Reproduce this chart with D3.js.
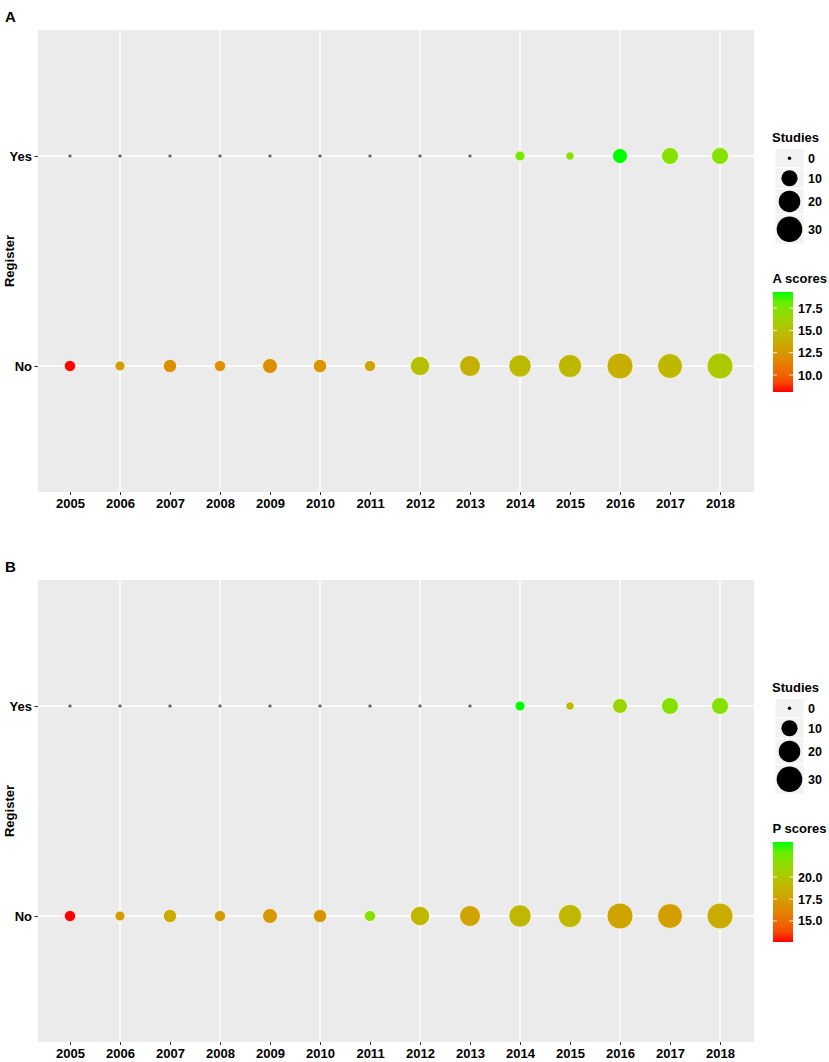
<!DOCTYPE html>
<html>
<head>
<meta charset="utf-8">
<script src="https://cdn.jsdelivr.net/npm/d3@7"></script>
<style>
body { margin: 0; background: #fff; }
text { font-family: "Liberation Sans", Arial, sans-serif; font-weight: bold; fill: #000; }
</style>
</head>
<body>
<svg id="chart" width="829" height="1062"></svg>
<script>
'use strict';
var years = [2005, 2006, 2007, 2008, 2009, 2010, 2011, 2012, 2013, 2014, 2015, 2016, 2017, 2018];
var registerLevels = ['Yes', 'No'];
var gridYears = [2006, 2008, 2010, 2012, 2014, 2016, 2018];

// number of studies per year (same in both panels)
var studiesNo  = [3, 2, 5, 3, 7, 5, 3, 14, 17, 20, 22, 29, 26, 29];
var studiesYes = [0, 0, 0, 0, 0, 0, 0, 0, 0, 2, 1, 7, 10, 10];

// mean scores (null where there are no studies)
var aScoresNo  = [8.1, 12.9, 12.1, 12.1, 12.1, 12.4, 13.2, 15.0, 14.0, 14.6, 14.4, 13.9, 14.4, 15.5];
var aScoresYes = [null, null, null, null, null, null, null, null, null, 17.6, 17.1, 19.3, 17.2, 17.2];
var pScoresNo  = [12.6, 17.3, 18.3, 17.4, 17.2, 17.0, 21.9, 19.0, 17.8, 19.0, 19.0, 17.8, 17.5, 18.3];
var pScoresYes = [null, null, null, null, null, null, null, null, null, 24.0, 19.0, 21.0, 21.9, 21.9];

var aTicks = [10, 12.5, 15, 17.5];
var pTicks = [15, 17.5, 20];
var sizeBreaks = [0, 10, 20, 30];

var svg = d3.select('#chart');
var panelLeft = 38, panelRight = 754, panelHeight = 462;

var maxStudies = d3.max(studiesNo.concat(studiesYes));
var diam = d3.scaleSqrt().domain([0, maxStudies]).range([4.2, 26]);

function rows(noScores, yesScores){
    var out = [];
    years.forEach(function(y, i){
        out.push({year: y, reg: 'No', n: studiesNo[i], score: noScores[i]});
        out.push({year: y, reg: 'Yes', n: studiesYes[i], score: yesScores[i]});
    });
    return out;
}

function drawPanel(top, tag, data, scoreTitle, ticks){
    var g = svg.append('g');
    var x = d3.scaleLinear().domain([2004.36, 2018.68]).range([panelLeft, panelRight]);
    var y = d3.scalePoint().domain(registerLevels).range([top, top + panelHeight]).padding(0.6);
    var vals = data.filter(function(d){ return d.score != null; }).map(function(d){ return d.score; });
    var ext = d3.extent(vals);
    var color = d3.scaleLinear().domain(ext).range(['#ff0000', '#00ff00']).interpolate(d3.interpolateLab);

    g.append('text').attr('x', 5).attr('y', top - 8.5).attr('font-size', 15).text(tag);

    g.append('rect').attr('x', panelLeft).attr('y', top)
        .attr('width', panelRight - panelLeft).attr('height', panelHeight).attr('fill', '#ebebeb');

    g.selectAll('.vgrid').data(gridYears).enter().append('line')
        .attr('x1', function(d){ return x(d); }).attr('x2', function(d){ return x(d); })
        .attr('y1', top).attr('y2', top + panelHeight)
        .attr('stroke', '#fff').attr('stroke-width', 1.4);
    g.selectAll('.hgrid').data(registerLevels).enter().append('line')
        .attr('x1', panelLeft).attr('x2', panelRight)
        .attr('y1', function(d){ return y(d); }).attr('y2', function(d){ return y(d); })
        .attr('stroke', '#fff').attr('stroke-width', 1.4);

    // axes
    var xAxis = d3.axisBottom(x).tickValues(years).tickFormat(d3.format('d')).tickSizeOuter(0).tickSize(3).tickPadding(4);
    var xg = g.append('g').attr('transform', 'translate(0,' + (top + panelHeight) + ')').call(xAxis);
    xg.select('.domain').remove();
    xg.selectAll('line').attr('stroke', '#333');
    xg.selectAll('text').attr('font-size', 13).attr('font-family', null).attr('fill', '#000');

    var yAxis = d3.axisLeft(y).tickSizeOuter(0).tickSize(3.5).tickPadding(2.5);
    var yg = g.append('g').attr('transform', 'translate(' + panelLeft + ',0)').call(yAxis);
    yg.select('.domain').remove();
    yg.selectAll('line').attr('stroke', '#333');
    yg.selectAll('text').attr('font-size', 13).attr('font-family', null).attr('fill', '#000');

    g.append('text')
        .attr('transform', 'translate(13.5,' + (top + panelHeight / 2) + ') rotate(-90)')
        .attr('text-anchor', 'middle').attr('font-size', 13).text('Register');

    // bubbles
    g.selectAll('.dot').data(data).enter().append('circle')
        .attr('cx', function(d){ return x(d.year); })
        .attr('cy', function(d){ return y(d.reg); })
        .attr('r', function(d){ return diam(d.n) / 2; })
        .attr('fill', function(d){ return d.score == null ? '#666666' : color(d.score); })
        .attr('stroke', '#fff').attr('stroke-width', 0.7);

    // size legend
    var lg = g.append('g');
    lg.append('text').attr('x', 772).attr('y', top + 112).attr('font-size', 13).text('Studies');
    var ky = top + 118.5;
    sizeBreaks.forEach(function(b){
        var d = diam(b);
        var h = Math.max(19.5, d + 3.5);
        lg.append('rect').attr('x', 775).attr('y', ky).attr('width', 29).attr('height', h)
            .attr('fill', '#f2f2f2').attr('stroke', '#fff').attr('stroke-width', 1);
        lg.append('circle').attr('cx', 789.5).attr('cy', ky + h / 2).attr('r', Math.max(1.6, d / 2 - 0.4)).attr('fill', '#000');
        lg.append('text').attr('x', 808).attr('y', ky + h / 2 + 4.5).attr('font-size', 12.5).text(b);
        ky += h;
    });

    // colour bar legend
    var barTop = top + 262, barBottom = top + 362, barX = 773, barW = 20;
    var cb = d3.scaleLinear().domain(ext).range([barBottom, barTop]);
    var gid = 'grad' + tag;
    var grad = svg.append('defs').append('linearGradient').attr('id', gid)
        .attr('x1', 0).attr('y1', 1).attr('x2', 0).attr('y2', 0);
    d3.range(0, 1.0001, 0.1).forEach(function(t){
        grad.append('stop').attr('offset', t)
            .attr('stop-color', color(ext[0] + t * (ext[1] - ext[0])));
    });
    lg.append('text').attr('x', 772.5).attr('y', top + 253).attr('font-size', 13).text(scoreTitle);
    lg.append('rect').attr('x', barX).attr('y', barTop).attr('width', barW).attr('height', barBottom - barTop)
        .attr('fill', 'url(#' + gid + ')');
    ticks.forEach(function(t){
        var ty = cb(t);
        lg.append('line').attr('x1', barX).attr('x2', barX + 4).attr('y1', ty).attr('y2', ty)
            .attr('stroke', '#fff').attr('stroke-width', 0.8);
        lg.append('line').attr('x1', barX + barW - 4).attr('x2', barX + barW).attr('y1', ty).attr('y2', ty)
            .attr('stroke', '#fff').attr('stroke-width', 0.8);
        lg.append('text').attr('x', 798).attr('y', ty + 4.5).attr('font-size', 12.5).text(d3.format('.1f')(t));
    });
}

drawPanel(30, 'A', rows(aScoresNo, aScoresYes), 'A scores', aTicks);
drawPanel(580, 'B', rows(pScoresNo, pScoresYes), 'P scores', pTicks);
</script>
</body>
</html>
